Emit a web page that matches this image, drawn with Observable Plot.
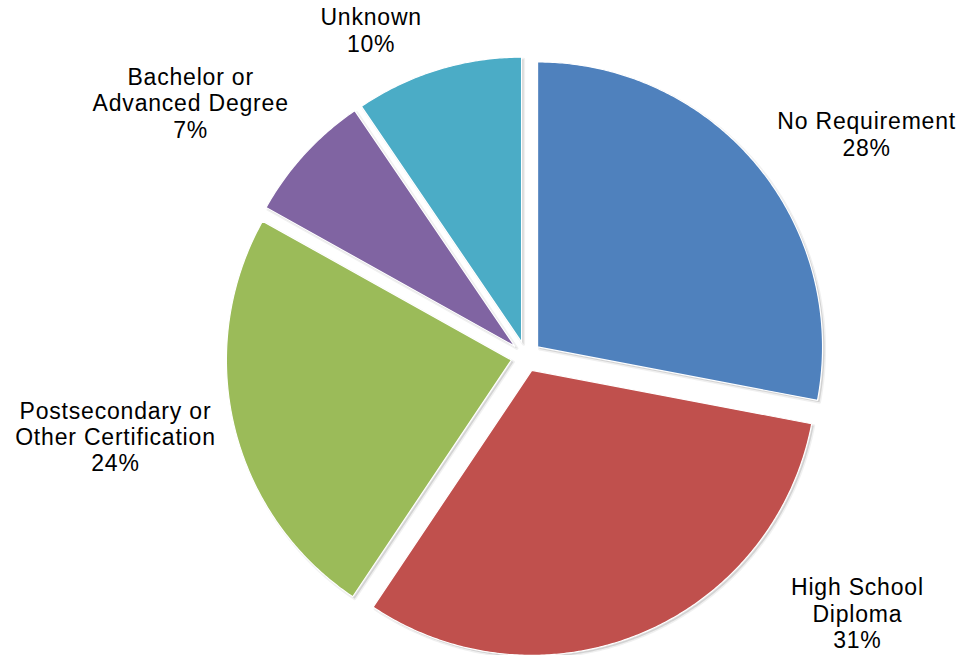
<!DOCTYPE html>
<html><head><meta charset="utf-8">
<script src="https://cdn.jsdelivr.net/npm/d3@7"></script>
<script src="https://cdn.jsdelivr.net/npm/@observablehq/plot@0.6"></script>
<style>body{margin:0;background:#fff;} svg text{letter-spacing:0.8px;}</style>
</head><body><div id="chart"></div>
<script>
// ---- data ----
const categories = ["No Requirement", "High School Diploma", "Postsecondary or Other Certification", "Bachelor or Advanced Degree", "Unknown"];
const labelLines = [["No Requirement"], ["High School", "Diploma"], ["Postsecondary or", "Other Certification"], ["Bachelor or", "Advanced Degree"], ["Unknown"]];
const shares = [28.0, 31.4, 23.7, 7.4, 9.5];
const colors = ["#4F81BD", "#C0504D", "#9BBB59", "#8064A2", "#4BACC6"];

// ---- layout ----
const W = 959, H = 655, CX = 525.5, CY = 356, R = 285;
const EXPLODE = 15 / R;
const labelNudge = [6.7, -29.35, 2.2, -5.6, -8.4];       // degrees off slice bisector
const labelRadius = [1.4235, 1.475, 1.469, 1.471, 1.262]; // in pie radii

const arcs = d3.pie().sort(null).value(d => d)(shares);

const polys = [];
arcs.forEach((a, i) => {
  const mid = (a.startAngle + a.endAngle) / 2;
  const ox = EXPLODE * Math.sin(mid), oy = EXPLODE * Math.cos(mid);
  polys.push({cat: categories[i], x: ox, y: oy});
  const n = Math.max(2, Math.ceil((a.endAngle - a.startAngle) / (Math.PI / 360)));
  for (let k = 0; k <= n; k++) {
    const t = a.startAngle + (a.endAngle - a.startAngle) * k / n;
    polys.push({cat: categories[i], x: ox + Math.sin(t), y: oy + Math.cos(t)});
  }
});

const total = d3.sum(shares);
const labels = arcs.map((a, i) => {
  const t = (a.startAngle + a.endAngle) / 2 + labelNudge[i] * Math.PI / 180;
  return {
    x: labelRadius[i] * Math.sin(t),
    y: labelRadius[i] * Math.cos(t),
    text: labelLines[i].join("\n") + "\n" + Math.round(shares[i] / total * 100) + "%"
  };
});

const chart = Plot.plot({
  width: W, height: H, margin: 0,
  style: {fontFamily: "'Liberation Sans', Arial, sans-serif", background: "#fff"},
  x: {domain: [-CX / R, (W - CX) / R], axis: null},
  y: {domain: [-(H - CY) / R, CY / R], axis: null},
  color: {domain: categories, range: colors},
  marks: [
    Plot.line(polys, {x: "x", y: "y", z: "cat", fill: "#000", fillOpacity: 0.12, stroke: "#000", strokeOpacity: 0.06, strokeWidth: 3, curve: "linear-closed", dx: 2, dy: 2}),
    Plot.line(polys, {x: "x", y: "y", z: "cat", fill: "cat", stroke: "#fff", strokeWidth: 1.2, curve: "linear-closed"}),
    Plot.text(labels, {x: "x", y: "y", text: "text", fontSize: 23, lineHeight: 1.15, fill: "#000", textAnchor: "middle", lineAnchor: "middle", dy: -2})
  ]
});
document.getElementById("chart").append(chart);
</script>
</body></html>
